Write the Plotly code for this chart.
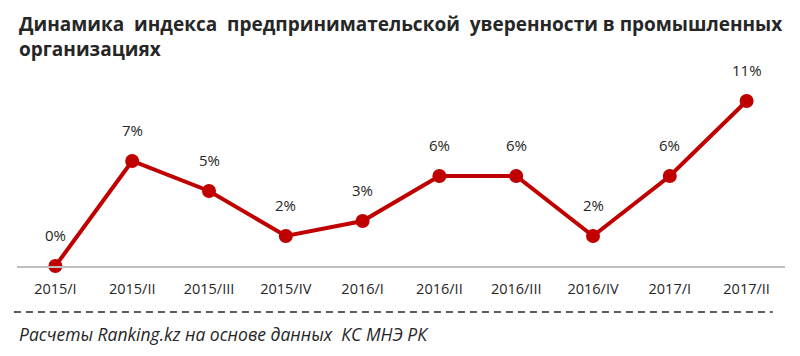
import plotly.graph_objects as go

categories = ["2015/I", "2015/II", "2015/III", "2015/IV", "2016/I",
              "2016/II", "2016/III", "2016/IV", "2017/I", "2017/II"]
values = [0.0, 7.0, 5.0, 2.0, 3.0, 6.0, 6.0, 2.0, 6.0, 11.0]
labels = ["0%", "7%", "5%", "2%", "3%", "6%", "6%", "2%", "6%", "11%"]

title_text = ("Динамика  индекса  предпринимательской  уверенности в промышленных<br>"
              "организациях")
source_text = "Расчеты Ranking.kz на основе данных  КС МНЭ РК"

RED = "#C00000"
TXT = "#262626"
FONT = "Open Sans"

fig = go.Figure()
fig.add_trace(go.Scatter(
    x=categories, y=values, mode="lines+markers",
    line=dict(color=RED, width=4),
    marker=dict(color=RED, size=14),
    cliponaxis=False,
))

annotations = [
    dict(x=c, y=v, text=t, showarrow=False, yshift=31,
         font=dict(family=FONT, size=15, color=TXT))
    for c, v, t in zip(categories, values, labels)
]
annotations += [
    dict(text="<b>" + title_text + "</b>", xref="paper", yref="paper",
         x=0.0, y=1.0, xanchor="left", yanchor="top",
         yshift=77, align="left", showarrow=False,
         font=dict(family=FONT, size=19, color=TXT)),
    dict(text="<i>" + source_text + "</i>", xref="paper", yref="paper",
         x=0.0, y=0, xanchor="left", yanchor="middle", yshift=-68,
         showarrow=False, font=dict(family=FONT, size=17.5, color=TXT)),
]

fig.update_layout(
    width=800, height=356,
    margin=dict(l=9, r=23, t=78, b=98),
    paper_bgcolor="white", plot_bgcolor="white",
    showlegend=False,
    xaxis=dict(type="category", range=[-0.5, 9.5], showgrid=False,
               showline=True, linecolor="#BFBFBF", linewidth=1.5,
               ticks="outside", ticklen=9, tickcolor="rgba(0,0,0,0)",
               tickfont=dict(family=FONT, size=14.5, color=TXT)),
    yaxis=dict(range=[0, 12], visible=False, zeroline=False, showgrid=False),
    annotations=annotations,
    shapes=[dict(type="line", xref="paper", yref="paper",
                 x0=-0.004, x1=0.984, ysizemode="pixel", yanchor=0,
                 y0=-46, y1=-46,
                 line=dict(color=TXT, width=1.5, dash="7px,5px"))],
)

fig.write_html("out.html")
